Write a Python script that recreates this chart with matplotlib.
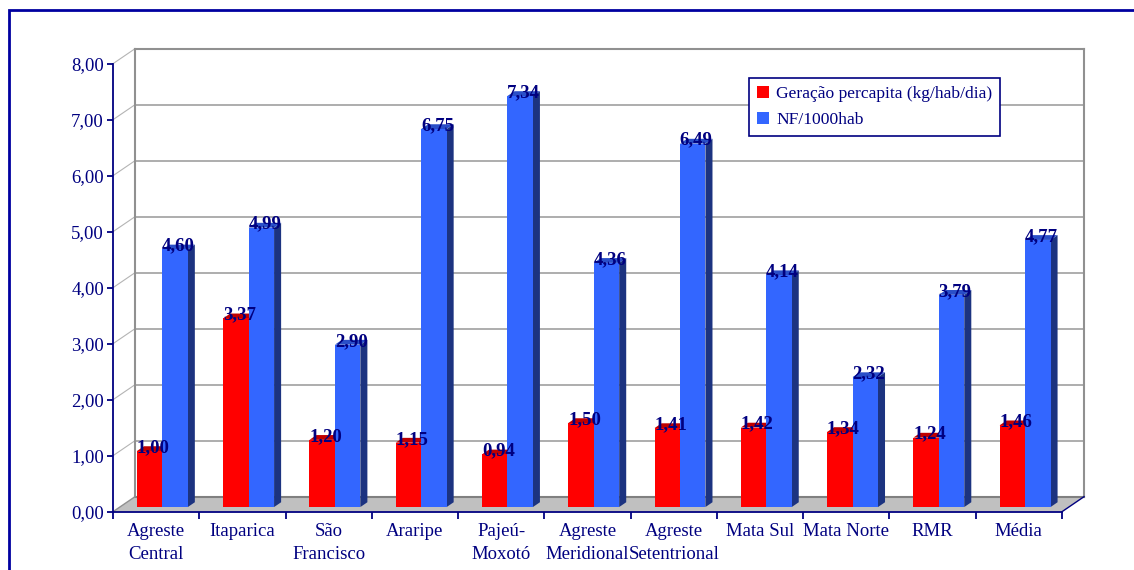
import matplotlib

matplotlib.use("Agg")
import matplotlib.pyplot as plt
from matplotlib.patches import Patch, Polygon, Rectangle

regions = ["Agreste\nCentral", "Itaparica", "São\nFrancisco", "Araripe", "Pajeú-\nMoxotó",
           "Agreste\nMeridional", "Agreste\nSetentrional", "Mata Sul", "Mata Norte", "RMR", "Média"]
geracao = [1.00, 3.37, 1.20, 1.15, 0.94, 1.50, 1.41, 1.42, 1.34, 1.24, 1.46]
nf_1000hab = [4.60, 4.99, 2.90, 6.75, 7.34, 4.36, 6.49, 4.14, 2.32, 3.79, 4.77]
y_ticks = [0, 1, 2, 3, 4, 5, 6, 7, 8]

NAVY = "#000080"
RED_FACES = ("#FF0000", "#C00000", "#900000")     # front, top, side
BLUE_FACES = ("#3366FF", "#2A4FC8", "#1C3380")
FONT = "Liberation Serif"

W, H = 1134, 570
fig = plt.figure(figsize=(W / 100, H / 100), dpi=100)
# front plane of the 3-D box: x 113..1062 px, y 511.7..63.7 px
ax = fig.add_axes([113 / W, (H - 511.7) / H, (1062 - 113) / W, (511.7 - 63.7) / H])
n = len(regions)
ax.set_xlim(0, n)
ax.set_ylim(0, 8)

# depth of the box in data units (22 px across, 15 px up)
ddx = 22 / ((1062 - 113) / n)
ddy = 15 / ((511.7 - 63.7) / 8)

# back wall, side wall and floor
grid_c = "#A0A0A0"
for v in y_ticks[1:]:
    ax.plot([ddx, n + ddx], [v + ddy, v + ddy], color=grid_c, lw=1.2, zorder=1, clip_on=False)
    ax.plot([0, ddx], [v, v + ddy], color="#B4B4B4", lw=0.8, zorder=1, clip_on=False)
ax.plot([ddx, ddx], [ddy, 8 + ddy], color="#909090", lw=1.5, zorder=1, clip_on=False)
ax.plot([n + ddx, n + ddx], [ddy, 8 + ddy], color="#909090", lw=1.5, zorder=1, clip_on=False)
ax.plot([ddx, n + ddx], [8 + ddy, 8 + ddy], color="#909090", lw=1.5, zorder=1, clip_on=False)
ax.add_patch(Polygon([(0, 0), (n, 0), (n + ddx, ddy), (ddx, ddy)], closed=True,
                     facecolor="#C0C0C0", edgecolor="none", zorder=2, clip_on=False))
ax.plot([ddx, n + ddx], [ddy, ddy], color="#808080", lw=1.5, zorder=2, clip_on=False)
ax.plot([0, ddx], [0, ddy], color="#909090", lw=1.0, zorder=2, clip_on=False)
ax.plot([n, n + ddx], [0, ddy], color=NAVY, lw=1.0, zorder=2, clip_on=False)

# bars sit between these depth fractions of the box
f0, f1 = 0.31, 0.63
bw = 0.295
bx = (f1 - f0) * ddx
by = (f1 - f0) * ddy


def bar3d(x0, value, faces, z):
    front, top, side = faces
    y0 = f0 * ddy
    y1 = value + f0 * ddy
    xs = x0 + f0 * ddx
    ax.add_patch(Polygon([(xs + bw, y0), (xs + bw + bx, y0 + by), (xs + bw + bx, y1 + by), (xs + bw, y1)],
                         closed=True, facecolor=side, edgecolor="none", zorder=z, clip_on=False))
    ax.add_patch(Polygon([(xs, y1), (xs + bw, y1), (xs + bw + bx, y1 + by), (xs + bx, y1 + by)],
                         closed=True, facecolor=top, edgecolor="none", zorder=z, clip_on=False))
    ax.add_patch(Rectangle((xs, y0), bw, value, facecolor=front, edgecolor="none", zorder=z, clip_on=False))
    ax.text(xs + bw / 2 + bx / 2, y1 - 0.02, f"{value:.2f}".replace(".", ","),
            ha="center", va="baseline", color=NAVY, fontsize=13.5, fontweight="bold",
            family=FONT, zorder=10)


for i in range(n):
    bar3d(i + 0.198, geracao[i], RED_FACES, 3)
    bar3d(i + 0.198 + bw, nf_1000hab[i], BLUE_FACES, 4)

# axes
for side in ("top", "right"):
    ax.spines[side].set_visible(False)
for side in ("left", "bottom"):
    ax.spines[side].set_color(NAVY)
    ax.spines[side].set_linewidth(1.3)
    ax.spines[side].set_zorder(5)
ax.patch.set_visible(False)

ax.set_yticks(y_ticks)
ax.set_yticklabels([f"{v:.2f}".replace(".", ",") for v in y_ticks])
ax.tick_params(axis="y", colors=NAVY, length=4.5, width=1.3, pad=2, labelsize=13.5)

ax.set_xticks(range(n + 1))
ax.set_xticklabels([])
ax.set_xticks([i + 0.5 for i in range(n)], minor=True)
ax.set_xticklabels(regions, minor=True)
ax.tick_params(axis="x", which="major", colors=NAVY, length=5, width=1.3)
ax.tick_params(axis="x", which="minor", colors=NAVY, length=0, pad=8, labelsize=13.5)
for lab in ax.get_xticklabels(minor=True):
    lab.set_family(FONT)
    lab.set_linespacing(1.45)
for lab in ax.get_yticklabels():
    lab.set_family(FONT)

handles = [Patch(facecolor="#FF0000", label="Geração percapita (kg/hab/dia)"),
           Patch(facecolor="#3366FF", label="NF/1000hab")]
leg = fig.legend(handles=handles, loc="upper left", bbox_to_anchor=(749 / W, 1 - 78 / H),
                 borderaxespad=0, fancybox=False, framealpha=1, edgecolor=NAVY,
                 handlelength=0.7, handleheight=0.7, handletextpad=0.4,
                 labelspacing=0.55, borderpad=0.45, prop={"family": FONT, "size": 12.6})
leg.get_frame().set_linewidth(1.2)
for t in leg.get_texts():
    t.set_color(NAVY)

# outer chart border (runs off the right and bottom edges)
fig.add_artist(Rectangle((9, -20), W + 40, H - 10 + 20, transform=None, fill=False,
                         edgecolor="#0000A0", linewidth=2))

fig.savefig("out.png", dpi=100)
